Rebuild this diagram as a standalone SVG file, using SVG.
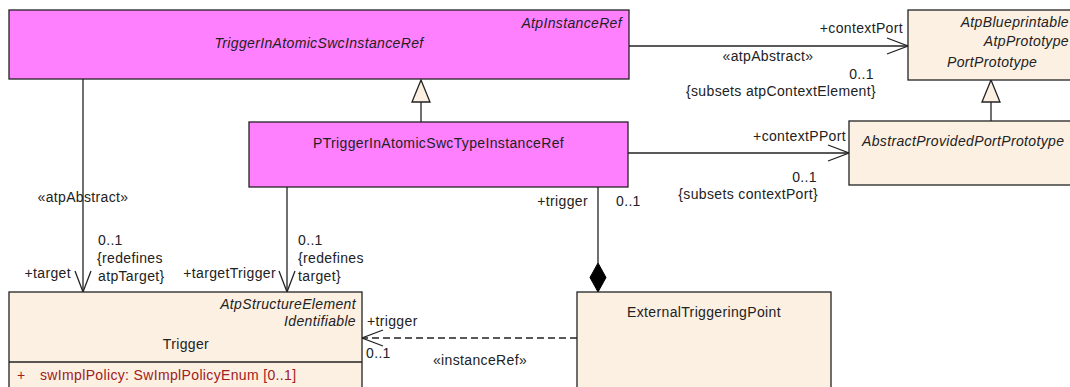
<svg xmlns="http://www.w3.org/2000/svg" width="1070" height="387" viewBox="0 0 1070 387">
<style>
text{font-family:"Liberation Sans",Arial,sans-serif;font-size:14px;fill:#222;letter-spacing:0.35px}
.i{font-style:italic}
.m{text-anchor:middle}
.e{text-anchor:end}
.pink{fill:#FF80FF;stroke:#222;stroke-width:1.3}
.beige{fill:#FBF0E2;stroke:#222;stroke-width:1.3}
.ln{fill:none;stroke:#222;stroke-width:1.3}
.dash{stroke-dasharray:7,4}
.attr{fill:#A0201E}
</style>
<defs>
<marker id="open" markerUnits="userSpaceOnUse" markerWidth="24" markerHeight="18" refX="21" refY="8" orient="auto" overflow="visible">
<path d="M0,0 L21,8 L0,16" fill="none" stroke="#222" stroke-width="1.3"/>
</marker>
</defs>
<g id="connectors">
<line class="ln" x1="629" y1="46" x2="908" y2="46" marker-end="url(#open)"/>
<line class="ln" x1="628" y1="153" x2="849" y2="153" marker-end="url(#open)"/>
<line class="ln" x1="83" y1="79" x2="83" y2="292" marker-end="url(#open)"/>
<line class="ln" x1="287" y1="187" x2="287" y2="292" marker-end="url(#open)"/>
<line class="ln dash" x1="577" y1="338" x2="362" y2="338" marker-end="url(#open)"/>
<line class="ln" x1="421" y1="122" x2="421" y2="102"/>
<polygon points="421,80 412,102 430,102" class="beige"/>
<line class="ln" x1="991" y1="121" x2="991" y2="102"/>
<polygon points="991,80 982,102 1000,102" class="beige"/>
<line class="ln" x1="598" y1="187" x2="598" y2="263"/>
<polygon points="598,263 606,277.5 598,292 590,277.5" fill="#000" stroke="#000" stroke-width="1"/>
<text x="903" y="33" class="e">+contextPort</text>
<text x="768" y="61" class="m">«atpAbstract»</text>
<text x="874" y="79" class="e">0..1</text>
<text x="876" y="96" class="e">{subsets atpContextElement}</text>
<text x="846" y="141" class="e">+contextPPort</text>
<text x="817" y="182" class="e">0..1</text>
<text x="818" y="199" class="e">{subsets contextPort}</text>
<text x="83" y="202" class="m">«atpAbstract»</text>
<text x="98" y="245">0..1</text>
<text x="97" y="263">{redefines</text>
<text x="98" y="281">atpTarget}</text>
<text x="71" y="278" class="e">+target</text>
<text x="276" y="278" class="e">+targetTrigger</text>
<text x="298" y="245">0..1</text>
<text x="298" y="263">{redefines</text>
<text x="298" y="281">target}</text>
<text x="588" y="206" class="e">+trigger</text>
<text x="616" y="206">0..1</text>
<text x="367" y="326">+trigger</text>
<text x="366" y="358">0..1</text>
<text x="480" y="365" class="m">«instanceRef»</text>
</g>
<g id="TriggerInAtomicSwcInstanceRef">
<rect x="9" y="10" width="620" height="69" class="pink"/>
<text x="622" y="28" class="i e">AtpInstanceRef</text>
<text x="319" y="48" class="i m">TriggerInAtomicSwcInstanceRef</text>
</g>
<g id="PortPrototype">
<rect x="908" y="10" width="175" height="70" class="beige"/>
<text x="1069" y="27" class="i e">AtpBlueprintable</text>
<text x="1069" y="46" class="i e">AtpPrototype</text>
<text x="947" y="67" class="i">PortPrototype</text>
</g>
<g id="PTriggerInAtomicSwcTypeInstanceRef">
<rect x="249" y="122" width="379" height="65" class="pink"/>
<text x="438.5" y="148" class="m">PTriggerInAtomicSwcTypeInstanceRef</text>
</g>
<g id="AbstractProvidedPortPrototype">
<rect x="849" y="121" width="235" height="64" class="beige"/>
<text x="862" y="146" class="i">AbstractProvidedPortPrototype</text>
</g>
<g id="Trigger">
<rect x="9" y="292" width="353" height="105" class="beige"/>
<line class="ln" x1="9" y1="362" x2="362" y2="362"/>
<text x="356" y="309" class="i e">AtpStructureElement</text>
<text x="356" y="326" class="i e">Identifiable</text>
<text x="186" y="349" class="m">Trigger</text>
<text x="17" y="380" class="attr">+</text>
<text x="40" y="380" class="attr">swImplPolicy: SwImplPolicyEnum [0..1]</text>
</g>
<g id="ExternalTriggeringPoint">
<rect x="577" y="292" width="254" height="105" class="beige"/>
<text x="704" y="317" class="m">ExternalTriggeringPoint</text>
</g>
</svg>
